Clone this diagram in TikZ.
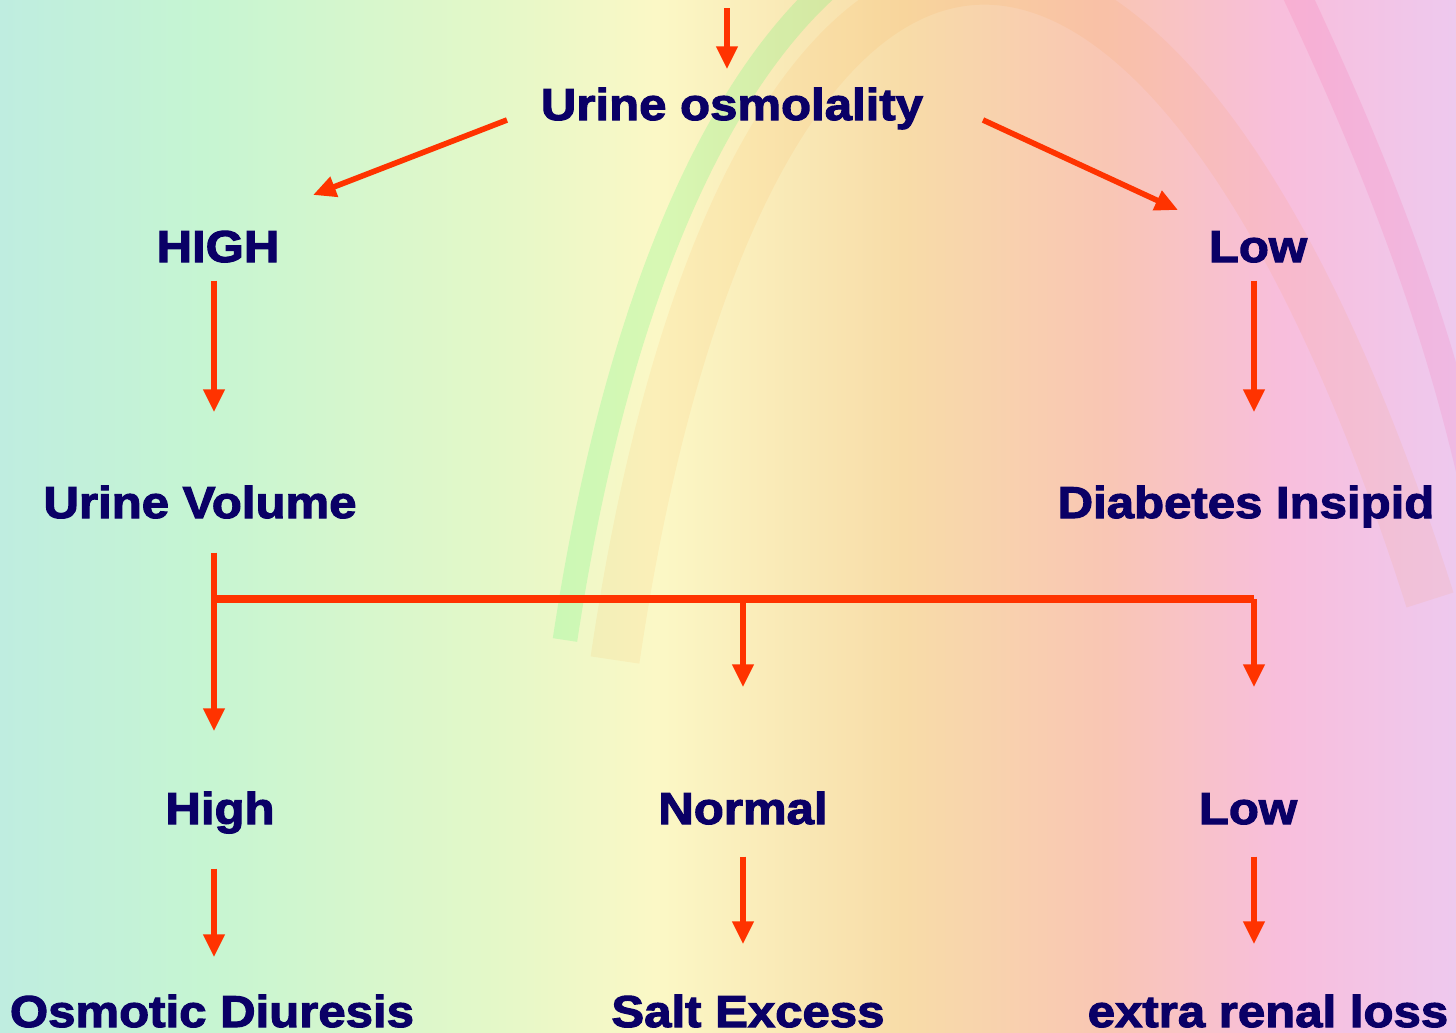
\documentclass[tikz,border=0pt]{standalone}
\usepackage{fontspec}
\setmainfont{Liberation Sans}[BoldFeatures={FakeBold=2.5}, FakeStretch=1.1]
\usetikzlibrary{arrows.meta}
\definecolor{navytext}{HTML}{0A0066}
\definecolor{arrowred}{HTML}{FF3300}
\definecolor{bgA}{HTML}{BFEDE0}
\definecolor{bgB}{HTML}{C6F5D2}
\definecolor{bgC}{HTML}{E4F8C8}
\definecolor{bgD}{HTML}{FBF8C6}
\definecolor{bgE}{HTML}{F8DCA8}
\definecolor{bgF}{HTML}{F9C6B4}
\definecolor{bgG}{HTML}{F8BEDC}
\definecolor{bgH}{HTML}{EEC9EE}
\pgfdeclarehorizontalshading{rainbowbg}{100bp}{color(0bp)=(bgA); color(25bp)=(bgA);
  color(32bp)=(bgB); color(42bp)=(bgC); color(47.5bp)=(bgD); color(56bp)=(bgE);
  color(63bp)=(bgF); color(69bp)=(bgG); color(75bp)=(bgH); color(100bp)=(bgH)}
\begin{document}
\begin{tikzpicture}[x=0.01cm, y=-0.01cm]
        \tikzstyle{lbl}=[anchor=base, inner sep=0pt, text height=0.32cm, text depth=0pt,
          text=navytext, font=\fontsize{12.7}{15}\selectfont\bfseries]
        \tikzstyle{arr}=[draw=arrowred, line width=1.6pt, -{Triangle[length=6.5pt, width=5.8pt]}]
        \tikzstyle{bar}=[draw=arrowred, line width=2.2pt]

        % fondo arco iris
        \useasboundingbox (0,0) rectangle (1456,1033);
        \shade[shading=rainbowbg] (0,0) rectangle (1456,1033);
        \begin{scope}
          \clip (0,0) rectangle (880,1033);
          \draw[green!70!cyan, line width=7pt, opacity=0.14] (565,640) .. controls (700,-260) and (1200,-360) .. (1490,560);
        \end{scope}
        \draw[orange, line width=14pt, opacity=0.07] (615,660) .. controls (740,-190) and (1150,-280) .. (1430,600);
        \draw[red!60!magenta, line width=8pt, opacity=0.08] (1290,-20) .. controls (1370,150) and (1430,300) .. (1470,470);

        % nodos
        \node[lbl] (osm) at (732,120) {Urine osmolality};
        \node[lbl] (high) at (218,262) {HIGH};
        \node[lbl] (lowa) at (1258,262) {Low};
        \node[lbl] (vol) at (200,518) {Urine Volume};
        \node[lbl] (di) at (1246,518) {Diabetes Insipid};
        \node[lbl] (highv) at (220,824) {High};
        \node[lbl] (normal) at (743,824) {Normal};
        \node[lbl] (lowv) at (1248,824) {Low};
        \node[lbl] (osmd) at (212,1027) {Osmotic Diuresis};
        \node[lbl] (salt) at (748,1027) {Salt Excess};
        \node[lbl] (renal) at (1268,1027) {extra renal loss};
        \coordinate (top) at (727,8);
        \coordinate (hub) at (214,599);
        \coordinate (hubr) at (1254,599);

        % flechas
        \draw[arr, shorten >=0.18cm] (top) -- (top |- osm.north);
        \draw[arr] ([shift={(-225,16)}]osm.center) -- ([shift={(95,-51)}]high.center);
        \draw[arr] ([shift={(251,16)}]osm.center) -- ([shift={(-80,-36)}]lowa.center);
        \draw[arr, shorten <=0.18cm, shorten >=0.73cm] (hub |- high.south) -- (hub |- vol.north);
        \draw[arr, shorten <=0.18cm, shorten >=0.73cm] (hubr |- lowa.south) -- (hubr |- di.north);
        \draw[arr, shorten <=0.34cm, shorten >=0.6cm] (hub |- vol.south) -- (hub |- highv.north);
        \draw[bar] (hub) -- (hubr);
        \draw[arr, shorten >=1.04cm] (hub -| normal) -- (normal.north);
        \draw[arr, shorten >=1.04cm] (hubr) -- (hubr |- lowv.north);
        \draw[arr, shorten <=0.44cm, shorten >=0.37cm] (hub |- highv.south) -- (hub |- osmd.north);
        \draw[arr, shorten <=0.32cm, shorten >=0.5cm] (normal.south) -- (normal.south |- salt.north);
        \draw[arr, shorten <=0.32cm, shorten >=0.5cm] (hubr |- lowv.south) -- (hubr |- renal.north);
\end{tikzpicture}
\end{document}
